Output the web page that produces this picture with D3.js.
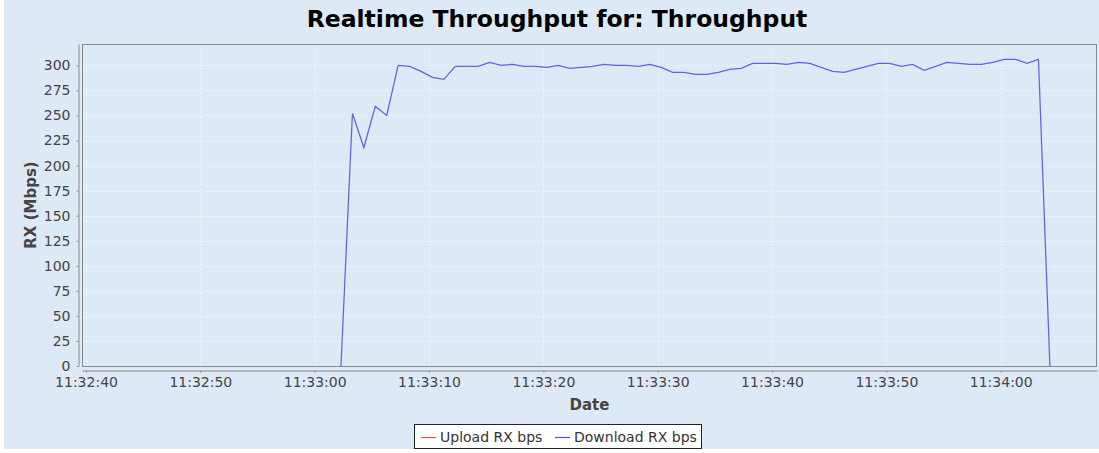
<!DOCTYPE html>
<html>
<head>
<meta charset="utf-8">
<script src="https://cdn.jsdelivr.net/npm/d3@7"></script>
<style>
  body { margin: 0; background: #fff; }
  text { font-family: "DejaVu Sans", sans-serif; }
</style>
</head>
<body>
<div id="chart"></div>
<script>
// Chart dimensions
const width = 1099;
const height = 453;
const plotLeft = 82;
const plotRight = 1097;
const plotTop = 44;
const plotBottom = 366;

// Data
const chartTitle = "Realtime Throughput for: Throughput";
const xDomain = ["11:32:39.650", "11:34:08.420"];
const yTicks = [0, 25, 50, 75, 100, 125, 150, 175, 200, 225, 250, 275, 300];
const seriesNames = ["Upload RX bps", "Download RX bps"];

const downloadTimes = [
  "11:33:02.300", "11:33:03.300", "11:33:04.300", "11:33:05.300", "11:33:06.300",
  "11:33:07.300", "11:33:08.300", "11:33:09.300", "11:33:10.300", "11:33:11.300",
  "11:33:12.300", "11:33:13.300", "11:33:14.300", "11:33:15.300", "11:33:16.300",
  "11:33:17.300", "11:33:18.300", "11:33:19.300", "11:33:20.300", "11:33:21.300",
  "11:33:22.300", "11:33:23.300", "11:33:24.300", "11:33:25.300", "11:33:26.300",
  "11:33:27.300", "11:33:28.300", "11:33:29.300", "11:33:30.300", "11:33:31.300",
  "11:33:32.300", "11:33:33.300", "11:33:34.300", "11:33:35.300", "11:33:36.300",
  "11:33:37.300", "11:33:38.300", "11:33:39.300", "11:33:40.300", "11:33:41.300",
  "11:33:42.300", "11:33:43.300", "11:33:44.300", "11:33:45.300", "11:33:46.300",
  "11:33:47.300", "11:33:48.300", "11:33:49.300", "11:33:50.300", "11:33:51.300",
  "11:33:52.300", "11:33:53.300", "11:33:54.300", "11:33:55.300", "11:33:56.300",
  "11:33:57.300", "11:33:58.300", "11:33:59.300", "11:34:00.300", "11:34:01.300",
  "11:34:02.300", "11:34:03.300", "11:34:04.300"
];
const downloadValues = [
  0, 252, 218, 259, 250, 300, 299, 294, 288, 286,
  299, 299, 299, 303, 300, 301, 299, 299, 298, 300,
  297, 298, 299, 301, 300, 300, 299, 301, 298, 293,
  293, 291, 291, 293, 296, 297, 302, 302, 302, 301,
  303, 302, 298, 294, 293, 296, 299, 302, 302, 299,
  301, 295, 299, 303, 302, 301, 301, 303, 306, 306,
  302, 306, 0
];
const uploadTimes = [];
const uploadValues = [];

const parseTime = d3.timeParse("%H:%M:%S.%L");
const download = downloadTimes.map((t, i) => ({ time: parseTime(t), value: downloadValues[i] }));
const upload = uploadTimes.map((t, i) => ({ time: parseTime(t), value: uploadValues[i] }));

const svg = d3.select("#chart")
  .append("svg")
  .attr("width", width)
  .attr("height", height);

// Chart background
svg.append("rect")
  .attr("x", 4).attr("y", 0)
  .attr("width", width - 4).attr("height", 449)
  .attr("fill", "#dee9f6");

// Title
svg.append("text")
  .attr("x", 557)
  .attr("y", 27)
  .attr("text-anchor", "middle")
  .style("font-size", "23.5px")
  .style("font-weight", "bold")
  .attr("fill", "#000")
  .text(chartTitle);

// Scales
const x = d3.scaleTime()
  .domain(xDomain.map(parseTime))
  .range([plotLeft, plotRight]);

const y = d3.scaleLinear()
  .domain([0, 321.3])
  .range([plotBottom, plotTop]);

// Plot background
svg.append("rect")
  .attr("x", plotLeft).attr("y", plotTop)
  .attr("width", plotRight - plotLeft).attr("height", plotBottom - plotTop)
  .attr("fill", "#dee9f6");

// Grid lines (very faint in the original)
const xTicks = x.ticks(d3.timeSecond.every(10));
const grid = svg.append("g").attr("class", "grid-lines");

grid.selectAll("line.vertical")
  .data(xTicks)
  .join("line")
  .attr("class", "vertical")
  .attr("x1", d => Math.round(x(d)) + 0.5)
  .attr("x2", d => Math.round(x(d)) + 0.5)
  .attr("y1", plotTop)
  .attr("y2", plotBottom)
  .attr("stroke", "#f4f8fc")
  .attr("stroke-width", 0.7)
  .attr("stroke-dasharray", "2,2");

grid.selectAll("line.horizontal")
  .data(yTicks)
  .join("line")
  .attr("class", "horizontal")
  .attr("x1", plotLeft)
  .attr("x2", plotRight)
  .attr("y1", d => Math.round(y(d)) + 0.5)
  .attr("y2", d => Math.round(y(d)) + 0.5)
  .attr("stroke", "#f4f8fc")
  .attr("stroke-width", 0.7)
  .attr("stroke-dasharray", "2,2");

// Series lines
const line = d3.line()
  .x(d => x(d.time))
  .y(d => y(d.value));

svg.append("path")
  .datum(upload)
  .attr("fill", "none")
  .attr("stroke", "#e05050")
  .attr("stroke-width", 1.2)
  .attr("d", line);

svg.append("path")
  .datum(download)
  .attr("fill", "none")
  .attr("stroke", "#6262e4")
  .attr("stroke-width", 1.25)
  .attr("d", line);

// Plot outline
svg.append("rect")
  .attr("x", plotLeft + 0.5).attr("y", plotTop + 0.5)
  .attr("width", plotRight - plotLeft - 1).attr("height", plotBottom - plotTop)
  .attr("fill", "none")
  .attr("stroke", "#8a8a8a");

// Axes
const xAxis = svg.append("g")
  .attr("transform", `translate(0,${plotBottom + 4.5})`)
  .call(d3.axisBottom(x)
    .tickValues(xTicks)
    .tickSize(2)
    .tickPadding(5)
    .tickSizeOuter(0)
    .tickFormat(d3.timeFormat("%H:%M:%S")));

const yAxis = svg.append("g")
  .attr("transform", `translate(${plotLeft - 3.5},0)`)
  .call(d3.axisLeft(y)
    .tickValues(yTicks)
    .tickSize(2)
    .tickPadding(6)
    .tickSizeOuter(0)
    .tickFormat(d => d.toFixed(0)));

[xAxis, yAxis].forEach(axis => {
  axis.select(".domain").attr("stroke", "#8a8a8a");
  axis.selectAll(".tick line").attr("stroke", "#8a8a8a");
  axis.selectAll(".tick text")
    .attr("fill", "#444")
    .style("font-family", "'DejaVu Sans', sans-serif")
    .style("font-size", "14px");
});

// Axis labels
svg.append("text")
  .attr("transform", `translate(36,${(plotTop + plotBottom) / 2}) rotate(-90)`)
  .attr("text-anchor", "middle")
  .style("font-size", "15px")
  .style("font-weight", "bold")
  .attr("fill", "#444")
  .text("RX (Mbps)");

svg.append("text")
  .attr("x", (plotLeft + plotRight) / 2)
  .attr("y", 410)
  .attr("text-anchor", "middle")
  .style("font-size", "15px")
  .style("font-weight", "bold")
  .attr("fill", "#444")
  .text("Date");

// Legend
const legend = svg.append("g");
legend.append("rect")
  .attr("x", 414.5).attr("y", 424.5)
  .attr("width", 287).attr("height", 24)
  .attr("fill", "#ffffff")
  .attr("stroke", "#222");

const legendColors = ["#e05050", "#5050e0"];
const legendX = [421, 555];
seriesNames.forEach((name, i) => {
  legend.append("line")
    .attr("x1", legendX[i]).attr("x2", legendX[i] + 15)
    .attr("y1", 437.5).attr("y2", 437.5)
    .attr("stroke", legendColors[i])
    .attr("stroke-width", 1.2);
  legend.append("text")
    .attr("x", legendX[i] + 19)
    .attr("y", 442)
    .style("font-size", "14px")
    .attr("fill", "#333")
    .text(name);
});
</script>
</body>
</html>
